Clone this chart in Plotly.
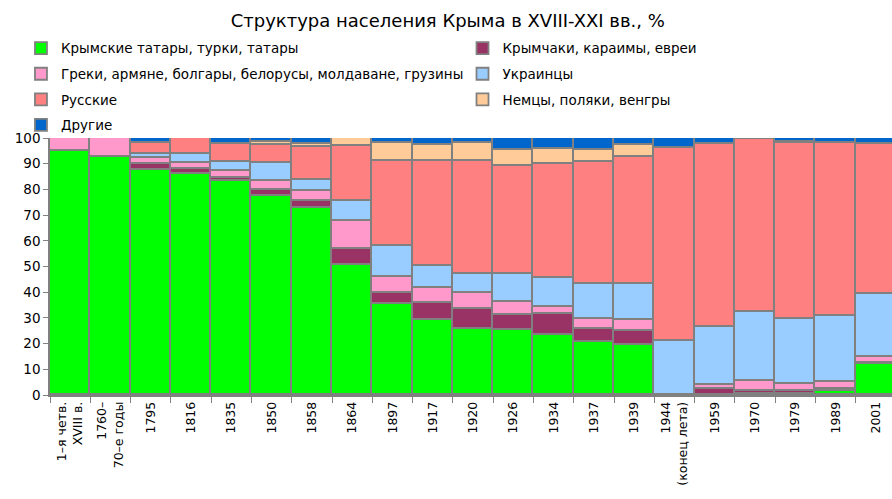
import plotly.graph_objects as go

categories = ["1–я четв.<br>XVIII в.", "1760–<br>70–е годы", "1795", "1816", "1835", "1850",
              "1858", "1864", "1897", "1917", "1920", "1926", "1934", "1937", "1939",
              "1944<br>(конец лета)", "1959", "1970", "1979", "1989", "2001"]

tatars = [95.0, 92.6, 87.6, 85.8, 83.3, 77.3, 72.8, 50.5, 35.6, 29.1, 25.5, 25.1, 23.3, 20.7, 19.4, 0.0, 0.0, 0.2, 0.3, 1.6, 12.1]
jews = [0.0, 0.0, 2.2, 2.2, 1.2, 2.5, 2.7, 6.5, 4.2, 6.8, 7.8, 5.9, 8.4, 5.1, 5.6, 0.0, 2.2, 1.5, 1.2, 0.7, 0.2]
greeks = [5.0, 7.4, 2.5, 2.2, 2.8, 3.5, 3.9, 10.8, 6.2, 5.6, 6.5, 5.3, 2.6, 3.6, 4.3, 0.0, 1.8, 3.9, 2.6, 2.8, 2.6]
ukrainians = [0.0, 0.0, 1.3, 3.5, 3.2, 7.0, 4.4, 7.6, 11.9, 8.6, 7.2, 10.8, 11.3, 13.6, 13.7, 21.0, 22.3, 26.6, 25.6, 25.8, 24.4]
russians = [0.0, 0.0, 4.3, 6.3, 7.2, 6.8, 12.7, 21.4, 33.0, 40.8, 43.9, 42.2, 44.4, 47.7, 49.6, 75.0, 71.4, 67.3, 68.4, 67.0, 58.3]
germans = [0.0, 0.0, 0.0, 0.0, 0.0, 1.3, 1.3, 3.2, 7.2, 6.4, 7.0, 6.2, 5.9, 4.6, 4.6, 0.0, 0.0, 0.0, 0.2, 0.2, 0.2]
others = [0.0, 0.0, 2.1, 0.0, 2.3, 1.6, 2.2, 0.0, 1.9, 2.7, 2.1, 4.5, 4.1, 4.7, 2.8, 4.0, 2.3, 0.5, 1.7, 1.9, 2.2]

series = [
    ("Крымские татары, турки, татары", tatars, "#00FF00", "legend"),
    ("Крымчаки, караимы, евреи", jews, "#993366", "legend2"),
    ("Греки, армяне, болгары, белорусы, молдаване, грузины", greeks, "#FF99CC", "legend"),
    ("Украинцы", ukrainians, "#99CCFF", "legend2"),
    ("Русские", russians, "#FF8080", "legend"),
    ("Немцы, поляки, венгры", germans, "#FFCC99", "legend2"),
    ("Другие", others, "#0066CC", "legend"),
]

FONT = "DejaVu Sans"

fig = go.Figure()
for name, vals, color, leg in series:
    fig.add_trace(go.Bar(
        x=categories, y=vals, name=name, legend=leg, legendgroup=name,
        marker=dict(color=color, line=dict(color="#808080", width=1.8)),
    ))

legend_common = dict(
    orientation="v", traceorder="grouped", tracegroupgap=5,
    font=dict(family=FONT, size=13.5, color="#000000"),
    bgcolor="rgba(0,0,0,0)", xanchor="left", yanchor="top",
    xref="container", yref="container",
)

fig.update_layout(
    width=892, height=499,
    margin=dict(l=50, r=0, t=138, b=104, autoexpand=False),
    barmode="stack", bargap=0,
    paper_bgcolor="white", plot_bgcolor="white",
    font=dict(family=FONT, color="#000000"),
    title=dict(text="Структура населения Крыма в XVIII-XXI вв., %",
               x=0.502, xanchor="center", y=0.958, yanchor="middle",
               xref="container", yref="container",
               font=dict(family=FONT, size=18, color="#000000")),
    legend=dict(x=0.0235, y=0.934, **legend_common),
    legend2=dict(x=0.5185, y=0.934, **legend_common),
    xaxis=dict(
        type="category", range=[-0.5, 20.4], tickangle=-90, automargin=False,
        tickson="boundaries", ticks="outside", ticklen=6, tickcolor="#808080",
        showline=True, linecolor="#808080", linewidth=1.5,
        showgrid=False, tickfont=dict(family=FONT, size=12.5, color="#000000"),
    ),
    yaxis=dict(
        range=[0, 100], dtick=10, ticks="outside", ticklen=5, tickcolor="#808080",
        showline=True, linecolor="#808080", linewidth=1.5, automargin=False,
        showgrid=False, zeroline=False,
        tickfont=dict(family=FONT, size=13.5, color="#000000"),
    ),
)

fig.write_html("out.html", config={"displayModeBar": False},
               post_script="document.body.style.margin='0';")
